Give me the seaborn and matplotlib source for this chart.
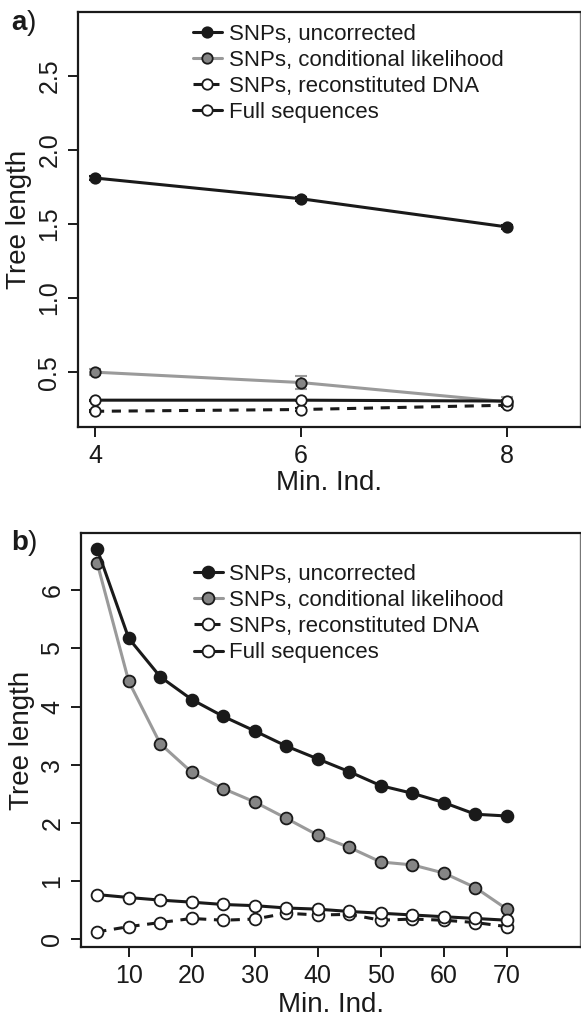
import pandas as pd
import matplotlib.pyplot as plt
import numpy as np
import seaborn as sns

# panel a data (min. ind. 4, 6, 8)
min_ind_a = [4, 6, 8]
uncorrected_a = [1.81, 1.67, 1.48]
uncorrected_a_err = [0.015, 0.012, 0.015]
conditional_a = [0.50, 0.43, 0.30]
conditional_a_err = [0.02, 0.045, 0.03]
reconstituted_a = [0.236, 0.248, 0.277]
reconstituted_a_err = [0.006, 0.008, 0.01]
full_a = [0.311, 0.311, 0.305]
full_a_err = [0.004, 0.004, 0.004]

# panel b data (min. ind. 5 .. 70)
min_ind_b = [5, 10, 15, 20, 25, 30, 35, 40, 45, 50, 55, 60, 65, 70]
uncorrected_b = [6.70, 5.17, 4.51, 4.12, 3.83, 3.58, 3.32, 3.10, 2.88, 2.64, 2.51, 2.35, 2.15, 2.12]
conditional_b = [6.46, 4.43, 3.36, 2.87, 2.59, 2.36, 2.08, 1.79, 1.58, 1.33, 1.28, 1.14, 0.89, 0.52]
reconstituted_b = [0.13, 0.22, 0.29, 0.36, 0.33, 0.35, 0.45, 0.42, 0.43, 0.33, 0.35, 0.33, 0.29, 0.22]
full_b = [0.77, 0.72, 0.675, 0.64, 0.60, 0.58, 0.54, 0.52, 0.48, 0.45, 0.42, 0.39, 0.36, 0.33]

labels = ['SNPs, uncorrected', 'SNPs, conditional likelihood',
          'SNPs, reconstituted DNA', 'Full sequences']

DARK = '#1a1a1a'
GREY_LINE = '#9a9a9a'
GREY_FILL = '#858585'

# (line colour, face colour, linestyle, zorder)
styles = [
    (DARK, DARK, '-', 4),
    (GREY_LINE, GREY_FILL, '-', 3),
    (DARK, 'white', (0, (3, 2.5)), 5),
    (DARK, 'white', '-', 6),
]

sns.set_style('ticks')
plt.rcParams['font.family'] = ['Liberation Sans', 'DejaVu Sans']
plt.rcParams['mathtext.fontset'] = 'custom'
plt.rcParams['mathtext.rm'] = 'Liberation Sans'
plt.rcParams['mathtext.bf'] = 'Liberation Sans:bold'


def draw_panel(ax, x, series, errs, msize):
    for lab, y, err, (lc, fc, ls, z) in zip(labels, series, errs, styles):
        df = pd.DataFrame({'Min. Ind.': x, 'Tree length': y})
        if err is not None:
            ax.errorbar(x, y, yerr=err, fmt='none', ecolor=lc, elinewidth=1.5,
                        capsize=4, capthick=1.5, zorder=z - 0.5)
        sns.lineplot(data=df, x='Min. Ind.', y='Tree length', ax=ax, color=lc,
                     linestyle=ls, linewidth=2.2, marker='o', markersize=msize,
                     markerfacecolor=fc, markeredgecolor=DARK, markeredgewidth=1.3,
                     label=lab, zorder=z)


def style_axes(ax, xpad):
    for s in ax.spines.values():
        s.set_visible(True)
        s.set_linewidth(1.6)
        s.set_color(DARK)
    ax.spines['right'].set_linewidth(1.0)
    ax.spines['right'].set_color('#777777')
    ax.tick_params(axis='both', length=7, width=1.4, color=DARK, labelsize=18,
                   labelcolor=DARK, pad=5)
    plt.setp(ax.get_yticklabels(), rotation=90, va='center')
    ax.set_xlabel('Min. Ind.', fontsize=20, color=DARK, labelpad=xpad)
    ax.set_ylabel('Tree length', fontsize=20, color=DARK, labelpad=4)


def add_legend(ax, anchor):
    ax.legend(loc='upper left', bbox_to_anchor=anchor, frameon=False,
              fontsize=16, handlelength=1.3, handletextpad=0.3, labelspacing=0.23,
              borderpad=0, borderaxespad=0, labelcolor=DARK)


fig = plt.figure(figsize=(5.81, 10.22), dpi=100)
ax1 = fig.add_axes([78 / 581, 1 - 427 / 1022, 502 / 581, 415 / 1022])
ax2 = fig.add_axes([81 / 581, 1 - 947 / 1022, 499 / 581, 414 / 1022])

draw_panel(ax1, min_ind_a, [uncorrected_a, conditional_a, reconstituted_a, full_a],
           [uncorrected_a_err, conditional_a_err, reconstituted_a_err, full_a_err], 7.5)
ax1.set_xlim(3.835, 8.71)
ax1.set_ylim(0.13, 2.93)
ax1.set_xticks(min_ind_a)
ax1.set_yticks([0.5, 1.0, 1.5, 2.0, 2.5])
ax1.set_yticklabels(['0.5', '1.0', '1.5', '2.0', '2.5'])
style_axes(ax1, 2)
add_legend(ax1, (0.229, 0.972))

draw_panel(ax2, min_ind_b, [uncorrected_b, conditional_b, reconstituted_b, full_b],
           [None, None, None, None], 8.5)
ax2.set_xlim(2.42, 81.6)
ax2.set_ylim(-0.13, 6.98)
ax2.set_xticks([10, 20, 30, 40, 50, 60, 70])
ax2.set_yticks([0, 1, 2, 3, 4, 5, 6])
style_axes(ax2, 3)
add_legend(ax2, (0.226, 0.925))

fig.text(11 / 581, 1 - 30 / 1022, r'$\mathbf{a}$)', fontsize=20, color=DARK)
fig.text(11 / 581, 1 - 550 / 1022, r'$\mathbf{b}$)', fontsize=20, color=DARK)

fig.savefig('out.png', dpi=100)
